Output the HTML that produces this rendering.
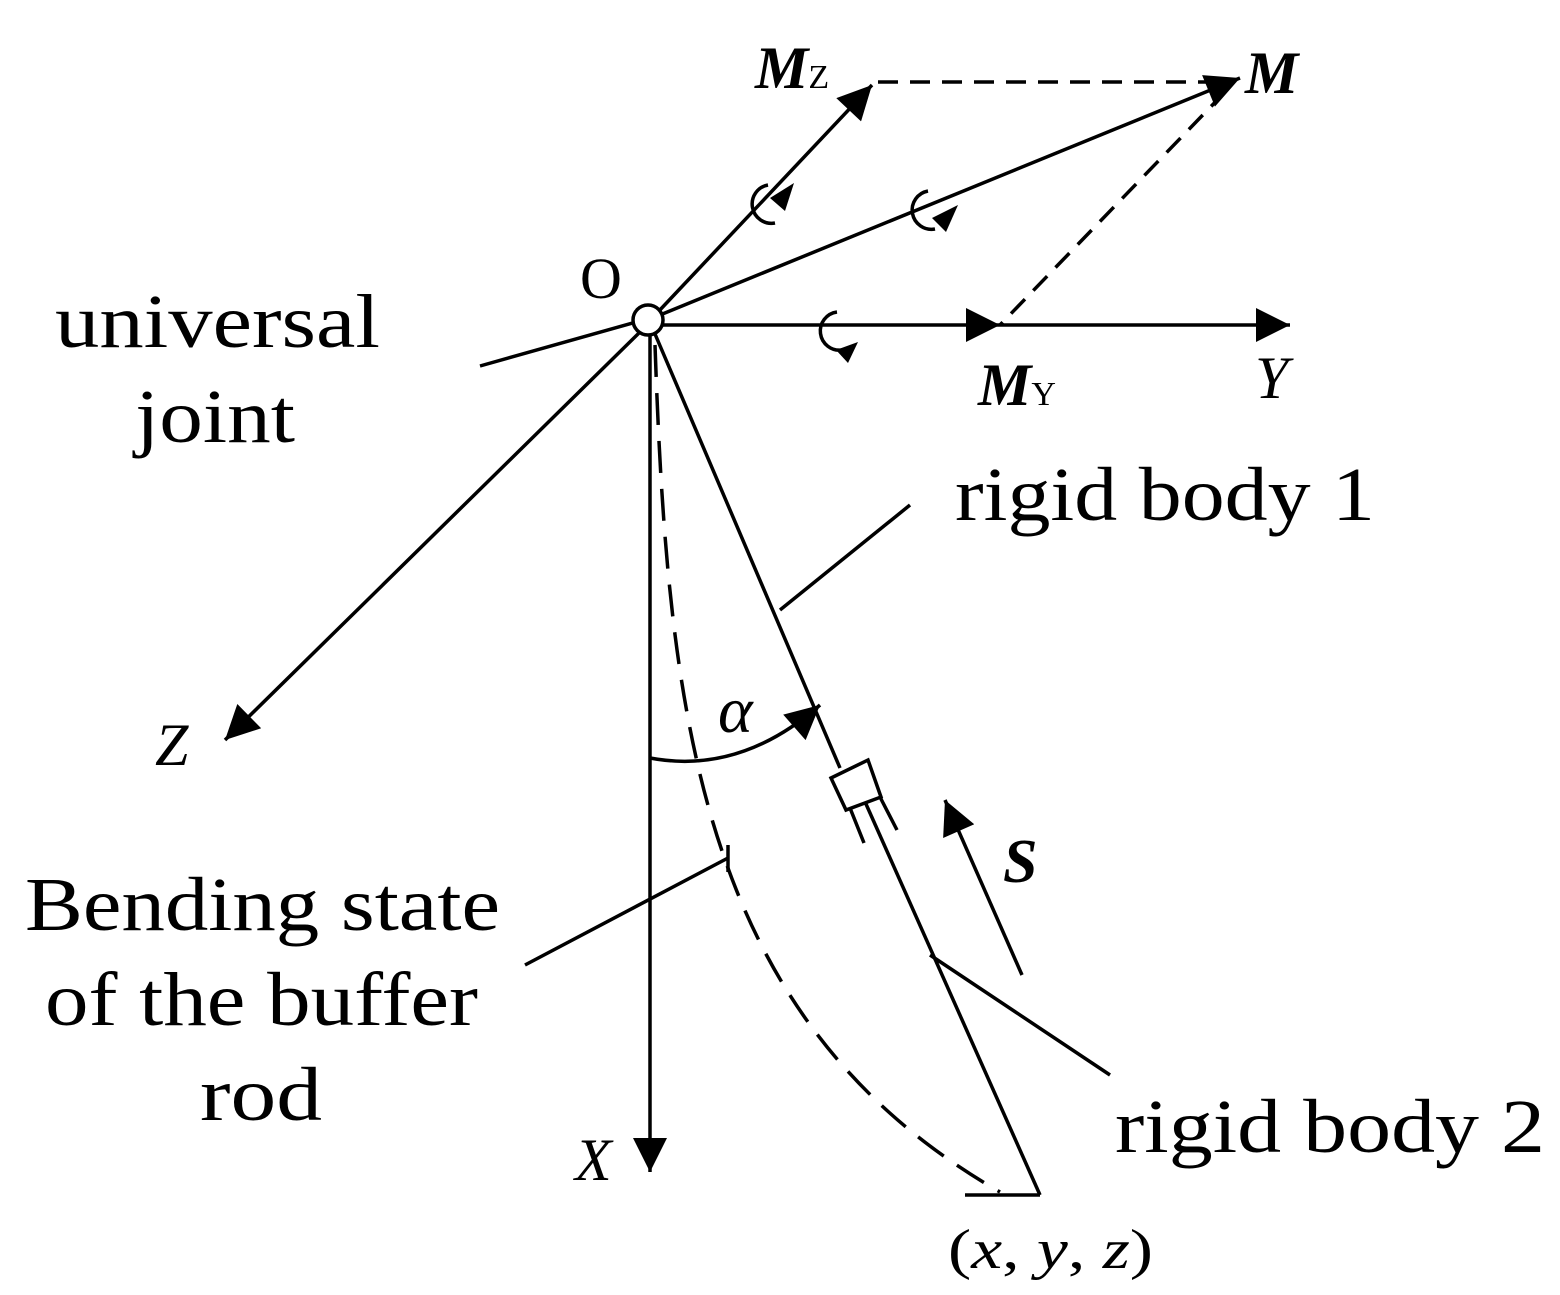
<!DOCTYPE html>
<html><head><style>body{margin:0;background:#fff}svg{display:block}</style></head><body>
<svg width="1560" height="1295" viewBox="0 0 1560 1295" xmlns="http://www.w3.org/2000/svg" font-family="Liberation Serif, serif">
<defs>
<marker id="b" viewBox="0 0 10 10" refX="10" refY="5" markerWidth="40" markerHeight="34" markerUnits="userSpaceOnUse" orient="auto"><path d="M0,0L10,5L0,10z"/></marker>
</defs>
<g stroke="#000" stroke-width="3.5" fill="none">
<line x1="658" y1="312" x2="872" y2="85" marker-end="url(#b)"/>
<line x1="660" y1="315" x2="1240" y2="78" marker-end="url(#b)"/>
<line x1="878" y1="82" x2="1228" y2="82" stroke-dasharray="20,12"/>
<line x1="1225" y1="92" x2="1000" y2="325" stroke-dasharray="20,12"/>
<line x1="662" y1="325" x2="1000" y2="325" marker-end="url(#b)"/>
<line x1="1000" y1="325" x2="1290" y2="325" marker-end="url(#b)"/>
<line x1="640" y1="332" x2="225" y2="740" marker-end="url(#b)"/>
<line x1="480" y1="366" x2="636" y2="322"/>
<line x1="650" y1="334" x2="650" y2="1172" marker-end="url(#b)"/>
<line x1="655" y1="334" x2="840" y2="768"/>
<polygon points="831,778 868,760 881,797 846,810"/>
<line x1="850" y1="808" x2="864" y2="843"/>
<line x1="880" y1="797" x2="897" y2="830"/>
<line x1="866" y1="804" x2="1040" y2="1195"/>
<line x1="965" y1="1195" x2="1040" y2="1195"/>
<path d="M655,345 C668,720 700,1020 1000,1192" stroke-dasharray="32,16"/>
<path d="M650,758 Q740,775 820,705" marker-end="url(#b)"/>
<line x1="1022" y1="975" x2="945" y2="800" marker-end="url(#b)"/>
<line x1="780" y1="610" x2="910" y2="505"/>
<line x1="525" y1="965" x2="728" y2="858"/>
<line x1="728" y1="845" x2="728" y2="872"/>
<line x1="930" y1="955" x2="1110" y2="1075"/>
<path d="M768,185 A19,19 0 1 0 775,223"/>
<path d="M928,191 A19,19 0 1 0 935,229"/>
<path d="M837,312 A19,19 0 1 0 842,350"/>
</g>
<g fill="#000">
<polygon points="794,183 785,211 770,198"/>
<polygon points="958,205 946,232 932,218"/>
<polygon points="858,342 848,363 836,350"/>
</g>
<circle cx="648" cy="320" r="15" fill="#fff" stroke="#000" stroke-width="3.5"/>
<g font-size="76">
<text x="55" y="347" textLength="325" lengthAdjust="spacingAndGlyphs">universal</text>
<text x="135" y="442" textLength="160" lengthAdjust="spacingAndGlyphs">joint</text>
<text x="580" y="298" font-size="58">O</text>
<text x="755" y="88" font-size="60" font-weight="bold" font-style="italic">M<tspan font-size="34" font-weight="normal" font-style="normal">Z</tspan></text>
<text x="1245" y="93" font-size="60" font-weight="bold" font-style="italic">M</text>
<text x="978" y="405" font-size="60" font-weight="bold" font-style="italic">M<tspan font-size="34" font-weight="normal" font-style="normal">Y</tspan></text>
<text x="1255" y="398" font-size="60" font-style="italic">Y</text>
<text x="955" y="520" textLength="420" lengthAdjust="spacingAndGlyphs">rigid body 1</text>
<text x="155" y="765" font-size="60" font-style="italic">Z</text>
<text x="718" y="732" font-size="66" font-style="italic">α</text>
<text x="1003" y="882" font-size="62" font-weight="bold" font-style="italic">S</text>
<text x="25" y="930" textLength="475" lengthAdjust="spacingAndGlyphs">Bending state</text>
<text x="45" y="1025" textLength="433" lengthAdjust="spacingAndGlyphs">of the buffer</text>
<text x="200" y="1120" textLength="122" lengthAdjust="spacingAndGlyphs">rod</text>
<text x="575" y="1180" font-size="60" font-style="italic">X</text>
<text x="1115" y="1152" textLength="430" lengthAdjust="spacingAndGlyphs">rigid body 2</text>
<text x="948" y="1268" font-size="56" textLength="205" lengthAdjust="spacingAndGlyphs">(<tspan font-style="italic">x</tspan>, <tspan font-style="italic">y</tspan>, <tspan font-style="italic">z</tspan>)</text>
</g>
</svg>
</body></html>
